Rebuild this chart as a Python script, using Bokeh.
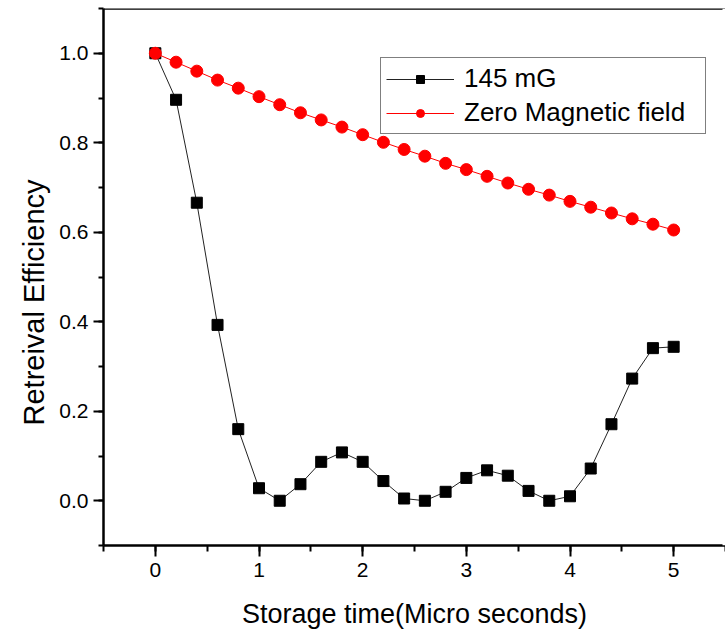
import math
from bokeh.plotting import figure
from bokeh.models import (Range1d, SingleIntervalTicker, PrintfTickFormatter,
                          Legend, LegendItem, Title, Span)
from bokeh.embed import file_html
from bokeh.resources import INLINE

# ---- data ----
time_us = [0.0, 0.2, 0.4, 0.6, 0.8, 1.0, 1.2, 1.4, 1.6, 1.8, 2.0, 2.2, 2.4,
           2.6, 2.8, 3.0, 3.2, 3.4, 3.6, 3.8, 4.0, 4.2, 4.4, 4.6, 4.8, 5.0]
eff_145mG = [1.000, 0.896, 0.666, 0.393, 0.160, 0.028, 0.000, 0.037, 0.087,
             0.108, 0.087, 0.044, 0.005, 0.000, 0.020, 0.051, 0.068, 0.056,
             0.022, 0.000, 0.010, 0.072, 0.171, 0.273, 0.341, 0.344]
eff_zero = [1.000, 0.980, 0.960, 0.940, 0.922, 0.903, 0.885, 0.867, 0.851,
            0.835, 0.818, 0.801, 0.785, 0.770, 0.754, 0.740, 0.725, 0.710,
            0.696, 0.683, 0.669, 0.656, 0.643, 0.630, 0.618, 0.605]
series_names = ["145 mG", "Zero Magnetic field"]
x_title = "Storage time(Micro seconds)"
y_title = "Retreival Efficiency"

FONT = "Liberation Sans"
X_END = 5.5

p = figure(width=725, height=633, output_backend="svg", toolbar_location=None,
           tools="",
           x_range=Range1d(-0.5, X_END), y_range=Range1d(-0.1, 1.1),
           min_border_left=103, min_border_right=0, min_border_top=8,
           min_border_bottom=88)
p.background_fill_color = "white"
p.border_fill_color = "white"
p.outline_line_color = None
p.grid.visible = False

# axes
xa = p.xaxis[0]
xa.ticker = SingleIntervalTicker(interval=1, num_minor_ticks=2)
ya = p.yaxis[0]
ya.ticker = SingleIntervalTicker(interval=0.2, num_minor_ticks=2)
ya.formatter = PrintfTickFormatter(format="%.1f")
for ax in (xa, ya):
    ax.axis_line_width = 2.5
    ax.axis_line_color = "black"
    ax.major_tick_line_width = 2
    ax.minor_tick_line_width = 2
    ax.major_tick_line_color = "black"
    ax.minor_tick_line_color = "black"
    ax.major_tick_in = 0
    ax.minor_tick_in = 0
    ax.major_label_text_font = FONT
    ax.major_label_text_font_size = "21px"
    ax.major_label_text_color = "black"
xa.major_tick_out = 11
xa.minor_tick_out = 6
xa.major_label_standoff = 6
xa.axis_label = x_title
xa.axis_label_text_font = FONT
xa.axis_label_text_font_size = "27px"
xa.axis_label_text_font_style = "normal"
xa.axis_label_text_color = "black"
xa.axis_label_standoff = 19
ya.major_tick_out = 10
ya.minor_tick_out = 5
ya.major_label_standoff = 5

# top frame line
p.add_layout(Span(location=1.1, dimension="width", line_color="black", line_width=2.5))
# keep the right edge open, as in the original
p.add_layout(Span(location=X_END, dimension="height", line_color="white", line_width=6))

# y title (placed lower than centre, like the original)
yt = Title(text=y_title, align="left", offset=120, text_font=FONT,
           text_font_size="29px", text_font_style="normal", text_color="black",
           standoff=13)
p.add_layout(yt, "left")

# series
l1 = p.line(time_us, eff_145mG, line_color="#222222", line_width=1)
s1 = p.scatter(time_us, eff_145mG, marker="square", size=11,
               fill_color="black", line_color="black")
l2 = p.line(time_us, eff_zero, line_color="red", line_width=1)
s2 = p.scatter(time_us, eff_zero, marker="circle", size=12,
               fill_color="red", line_color="red")

legend = Legend(items=[LegendItem(label=series_names[0], renderers=[l1, s1]),
                       LegendItem(label=series_names[1], renderers=[l2, s2])],
                location=(277, 411))
legend.label_text_font = FONT
legend.label_text_font_size = "26px"
legend.label_text_color = "black"
legend.padding = 5
legend.margin = 0
legend.spacing = 3
legend.glyph_width = 68
legend.glyph_height = 20
legend.label_height = 30
legend.label_standoff = 10
legend.label_width = 236
legend.border_line_color = "black"
legend.border_line_width = 1.5
legend.background_fill_color = "white"
legend.background_fill_alpha = 1
p.add_layout(legend)

open("out.html", "w").write(file_html(p, INLINE))
